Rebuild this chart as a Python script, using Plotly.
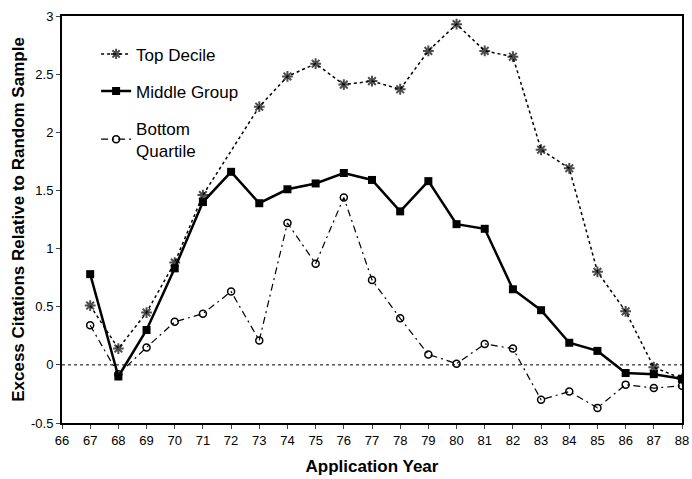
import plotly.graph_objects as go

years = list(range(67, 89))
top_decile = [0.51, 0.14, 0.45, 0.88, 1.46, 1.84, 2.22, 2.48, 2.59, 2.41, 2.44, 2.37,
              2.70, 2.93, 2.70, 2.65, 1.85, 1.69, 0.80, 0.46, -0.02, -0.12]
middle_group = [0.78, -0.10, 0.30, 0.83, 1.40, 1.66, 1.39, 1.51, 1.56, 1.65, 1.59, 1.32,
                1.58, 1.21, 1.17, 0.65, 0.47, 0.19, 0.12, -0.07, -0.08, -0.12]
bottom_quartile = [0.34, -0.08, 0.15, 0.37, 0.44, 0.63, 0.21, 1.22, 0.87, 1.44, 0.73, 0.40,
                   0.09, 0.01, 0.18, 0.14, -0.30, -0.23, -0.37, -0.17, -0.20, -0.18]
x_ticks = list(range(66, 89))
y_ticks = [-0.5, 0, 0.5, 1, 1.5, 2, 2.5, 3]

# the 1972 top-decile marker is hidden in the original
top_sizes = [0 if y == 72 else 9 for y in years]

fig = go.Figure()
fig.add_trace(go.Scatter(
    x=years, y=top_decile, name="Top Decile", mode="lines+markers", legendgroup="a",
    line=dict(color="black", width=1.5, dash="dot"),
    marker=dict(symbol="asterisk-open", size=top_sizes, color="black",
                line=dict(color="black", width=2))))
fig.add_trace(go.Scatter(
    x=years, y=middle_group, name="Middle Group", mode="lines+markers", legendgroup="b",
    line=dict(color="black", width=2.5),
    marker=dict(symbol="square", size=8, color="black")))
fig.add_trace(go.Scatter(
    x=years, y=bottom_quartile, name="Bottom<br>Quartile", mode="lines+markers", legendgroup="c",
    line=dict(color="black", width=1.2, dash="7px,4px,2px,4px"),
    marker=dict(symbol="circle-open", size=7, color="black", line=dict(color="black", width=1.5))))

fig.add_shape(type="line", xref="paper", yref="y", x0=0, x1=1, y0=0, y1=0,
              line=dict(color="black", width=1, dash="dot"), layer="below")

font = "Liberation Sans, Arial, sans-serif"
fig.update_layout(
    width=692, height=479,
    margin=dict(l=62, r=10, t=16, b=56),
    plot_bgcolor="white", paper_bgcolor="white",
    font=dict(family=font, size=13, color="black"),
    showlegend=True,
    legend=dict(x=0.055, y=0.95, xanchor="left", yanchor="top", bgcolor="rgba(0,0,0,0)",
                font=dict(size=17, family=font), traceorder="grouped", tracegroupgap=12),
    xaxis=dict(range=[66, 88], tickmode="array", tickvals=x_ticks,
               ticktext=[str(v) for v in x_ticks], ticks="outside", ticklen=4,
               showgrid=False, zeroline=False, showline=True, linecolor="black",
               linewidth=2, mirror=True, tickfont=dict(size=13), automargin=False,
               title=dict(text="<b>Application Year</b>", font=dict(size=17), standoff=14)),
    yaxis=dict(range=[-0.5, 3], tickmode="array", tickvals=y_ticks,
               ticktext=[str(v) for v in y_ticks], ticks="outside", ticklen=4,
               showgrid=False, zeroline=False, showline=True, linecolor="black",
               linewidth=2, mirror=True, tickfont=dict(size=13), automargin=False,
               title=dict(text="<b>Excess Citations Relative to Random Sample</b>",
                          font=dict(size=17), standoff=2)),
)
fig.write_html("out.html")
